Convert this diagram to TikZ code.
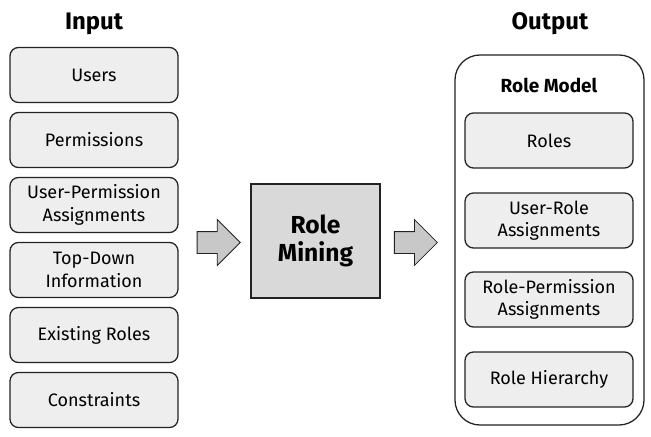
\documentclass[tikz,border=0pt]{standalone}
\usepackage{fontspec}
\setmainfont{Fira Sans}
\definecolor{BoxGray}{RGB}{238,238,238}
\definecolor{CoreGray}{RGB}{217,217,217}
\definecolor{ArrowGray}{RGB}{200,200,200}
\definecolor{LineDark}{RGB}{34,34,34}
\usetikzlibrary{shapes.arrows, positioning}

\begin{document}
\begin{tikzpicture}[
    item/.style={rounded corners=6pt, minimum width=4.2cm, minimum height=1.375cm,
                 align=center, draw=LineDark, fill=BoxGray, line width=0.9pt,
                 font=\fontsize{12.8}{16}\selectfont, inner sep=2pt},
    title/.style={font=\fontsize{17}{20}\selectfont\bfseries},
    flow/.style={single arrow, draw=LineDark, fill=ArrowGray, line width=0.6pt,
                 minimum height=1.075cm, inner xsep=0pt, inner ysep=0.2625cm,
                 single arrow head extend=0.3cm}
  ]
    \useasboundingbox (0,0) rectangle (16.275,10.9);

    % Input
    \node[title] (intitle) at (2.35, 10.3) {Input};
    \node[item] (users) at (2.35, 9.025) {Users};
    \node[item] (perms) at (2.35, 7.4) {Permissions};
    \node[item] (upa) at (2.35, 5.775) {User-Permission\\Assignments};
    \node[item] (topdown) at (2.35, 4.15) {Top-Down\\Information};
    \node[item] (exist) at (2.35, 2.525) {Existing Roles};
    \node[item] (constr) at (2.35, 0.9) {Constraints};

    % Role mining
    \node[flow] (arrin) at (5.33, 4.8375) {};
    \node[draw=LineDark, fill=CoreGray, line width=0.9pt, minimum width=3.225cm,
          minimum height=2.85cm, align=center, font=\fontsize{17.5}{20}\selectfont\bfseries]
          (mining) at (7.8875, 4.875) {Role\\Mining};
    \node[flow] (arrout) at (10.26, 4.8375) {};

    % Output
    \node[title] (outtitle) at (13.75, 10.3) {Output};
    \node[draw=LineDark, line width=0.9pt, rounded corners=0.625cm,
          minimum width=4.725cm, minimum height=9.25cm] (model) at (13.7375, 4.9) {};
    \node[font=\fontsize{13.5}{16}\selectfont\bfseries] (modeltitle) at (13.725, 8.775) {Role Model};
    \node[item] (roles) at (13.725, 7.3875) {Roles};
    \node[item] (ura) at (13.725, 5.3875) {User-Role\\Assignments};
    \node[item] (rpa) at (13.725, 3.4125) {Role-Permission\\Assignments};
    \node[item] (hier) at (13.725, 1.4125) {Role Hierarchy};
\end{tikzpicture}
\end{document}
